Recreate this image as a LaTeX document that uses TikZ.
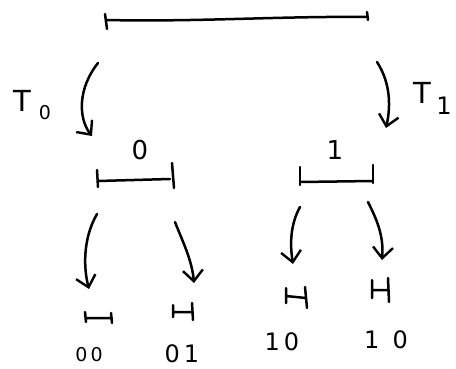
\documentclass[tikz,border=0pt]{standalone}
\usepackage{fontspec}
\setsansfont{DejaVu Sans}
\usetikzlibrary{arrows.meta}
\begin{document}
\begin{tikzpicture}[x=1pt,y=-1pt, line width=2.5pt, line cap=round, line join=round,
  arr/.style={-{Straight Barb[length=11pt,width=20pt,line width=2.4pt]}},
  lbl/.style={font=\sffamily\fontsize{29}{30}\selectfont, inner sep=0pt},
  mid/.style={font=\sffamily\fontsize{26}{28}\selectfont, inner sep=0pt},
  sml/.style={font=\sffamily\fontsize{24}{26}\selectfont, inner sep=0pt},
  tiny/.style={font=\sffamily\fontsize{19}{20}\selectfont, inner sep=0pt}]
\useasboundingbox (0,0) rectangle (456,368);
% top interval
\draw (105,14) -- (107,29);
\draw (106,20) .. controls (200,22) and (280,16) .. (368,17);
\draw (367,12) -- (368,20);
% level-1 intervals
\draw (97,170) -- (98,187);
\draw (98,181) -- (170,179);
\draw (172,163) -- (174,188);
\draw (300,167) -- (300,185);
\draw (300,182) -- (373,181);
\draw (373,165) -- (373,183);
% level-2 intervals
\draw (85,312) -- (86,322) (86,318) -- (112,318) (111,313) -- (112,323);
\draw (173,305) -- (173,317) (173,312) -- (193,312) (192,303) -- (193,320);
\draw (286,288) -- (286,303) (286,296) -- (306,298) (305,287) -- (307,308);
\draw (372,280) -- (372,298) (372,290) -- (388,290) (388,278) -- (389,302);
% arrow endpoints
\coordinate (a0s) at (98,63);   \coordinate (a0e) at (92,136);
\coordinate (a1s) at (377,62);  \coordinate (a1e) at (386,128);
\coordinate (b0s) at (97,214);  \coordinate (b0e) at (89,289);
\coordinate (b1s) at (175,222); \coordinate (b1e) at (194,283);
\coordinate (b2s) at (300,207); \coordinate (b2e) at (293,264);
\coordinate (b3s) at (368,202); \coordinate (b3e) at (382,260);
\draw[arr] (a0s) .. controls (78,88) and (78,118) .. (a0e);
\draw[arr] (a1s) .. controls (392,85) and (390,110) .. (a1e);
\draw[arr] (b0s) .. controls (82,240) and (84,270) .. (b0e);
\draw[arr] (b1s) .. controls (182,240) and (192,260) .. (b1e);
\draw[arr] (b2s) .. controls (290,225) and (290,245) .. (b2e);
\draw[arr] (b3s) .. controls (376,218) and (384,235) .. (b3e);
% labels
\node[lbl] (t0) at (22,101) {T};
\node[tiny] (t0s) at (45,113) {0};
\node[lbl] (t1) at (422,93) {T};
\node[sml] (t1s) at (444,106) {1};
\node[mid] (l0) at (140,150) {0};
\node[mid] (l1) at (335,150) {1};
\node[tiny] (l00) at (89,355) {0\,0};
\node[sml] (l01) at (182,354) {0\,1};
\node[sml] (l10) at (282,342) {1\,0};
\node[sml] (l10b) at (386,340) {1\;\;0};
\end{tikzpicture}
\end{document}
